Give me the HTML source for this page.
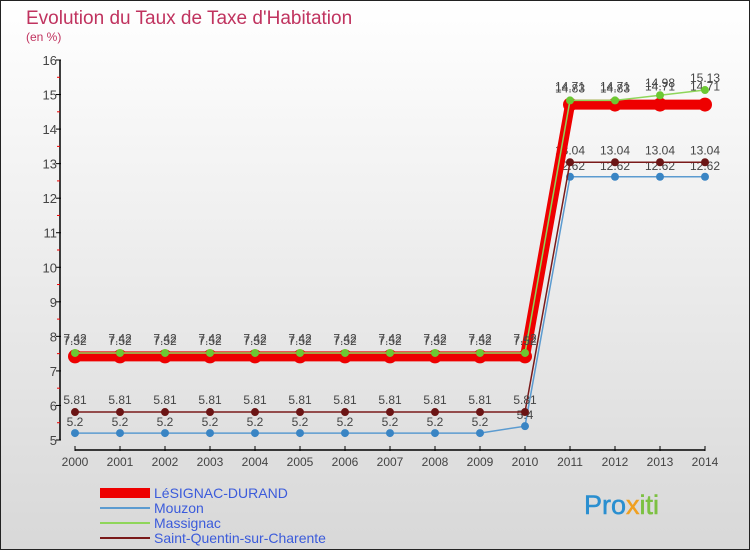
<!DOCTYPE html>
<html><head><meta charset="utf-8"><style>
body{margin:0;width:750px;height:550px;overflow:hidden;font-family:"Liberation Sans",sans-serif}
</style></head><body>
<svg width="750" height="550" xmlns="http://www.w3.org/2000/svg">
<defs><linearGradient id="bg" x1="0" y1="0" x2="0" y2="1"><stop offset="0" stop-color="#ffffff"/><stop offset="1" stop-color="#d8d8d8"/></linearGradient></defs>
<rect x="0.5" y="0.5" width="749" height="549" fill="url(#bg)" stroke="#222"/>
<text x="26" y="24" font-size="19" fill="#c0335f">Evolution du Taux de Taxe d'Habitation</text>
<text x="26" y="41" font-size="12" fill="#c0335f">(en %)</text>
<g id="axes"></g><g id="series"></g><g id="legend"></g>
<text x="584" y="514" font-size="27" fill="#2a8fd0" stroke="#2a8fd0" stroke-width="0.5">Pro<tspan fill="#f0a020" stroke="#f0a020">x</tspan><tspan fill="#7cc142" stroke="#7cc142">iti</tspan></text>
</svg>
<script>
const years=[2000,2001,2002,2003,2004,2005,2006,2007,2008,2009,2010,2011,2012,2013,2014];
const yTicks=[5,6,7,8,9,10,11,12,13,14,15,16];
const lesignac=[7.42,7.42,7.42,7.42,7.42,7.42,7.42,7.42,7.42,7.42,7.42,14.71,14.71,14.71,14.71];
const mouzon=[5.2,5.2,5.2,5.2,5.2,5.2,5.2,5.2,5.2,5.2,5.4,12.62,12.62,12.62,12.62];
const massignac=[7.52,7.52,7.52,7.52,7.52,7.52,7.52,7.52,7.52,7.52,7.52,14.83,14.83,14.98,15.13];
const stquentin=[5.81,5.81,5.81,5.81,5.81,5.81,5.81,5.81,5.81,5.81,5.81,13.04,13.04,13.04,13.04];
const seriesNames=["LéSIGNAC-DURAND","Mouzon","Massignac","Saint-Quentin-sur-Charente"];
const NS="http://www.w3.org/2000/svg";
const X=y=>75+(y-years[0])*45;
const Y=v=>440-(v-5)*(380/11);
function mk(tag,attrs,parent,txt){const e=document.createElementNS(NS,tag);for(const k in attrs)e.setAttribute(k,attrs[k]);if(txt!==undefined)e.textContent=txt;parent.appendChild(e);return e;}
const ax=document.getElementById('axes');
let a=mk('line',{x1:60,y1:Y(16),x2:60,y2:440,stroke:'#000','stroke-width':1.5},ax);


a=mk('line',{x1:75,y1:450,x2:705,y2:450,stroke:'#000','stroke-width':1.5},ax);


yTicks.forEach(t=>{
 mk('line',{x1:56,x2:61,y1:Y(t),y2:Y(t),stroke:'#000'},ax);
 if(t<16)mk('line',{x1:57,x2:60,y1:Y(t+0.5),y2:Y(t+0.5),stroke:'#e00'},ax);
 const l=mk('text',{x:57,y:Y(t)+5,'font-size':13,fill:'#444','text-anchor':'end'},ax,String(t));
 
 
});
years.forEach(yr=>{
 mk('line',{x1:X(yr),x2:X(yr),y1:446,y2:451,stroke:'#000'},ax);
 const l=mk('text',{x:X(yr),y:466,'font-size':12,fill:'#444','text-anchor':'middle'},ax,String(yr));
 
 
});
const sg=document.getElementById('series');
function drawSeries(vals,color,w,r,dot,name,labelDy){
 const g=mk('g',{},sg);
 
 
 mk('polyline',{points:vals.map((v,i)=>X(years[i])+','+Y(v)).join(' '),fill:'none',stroke:color,'stroke-width':w},g);
 vals.forEach((v,i)=>{
  const c=mk('circle',{cx:X(years[i]),cy:Y(v),r:r,fill:dot},g);
  
  
  mk('text',{x:X(years[i]),y:Y(v)+labelDy,'font-size':12,fill:'#444','text-anchor':'middle'},g,String(v));
 });
}
drawSeries(mouzon,'#5b9bd0',1.5,4,'#3a85c4','series-mouzon',-7);
drawSeries(stquentin,'#7a1a1a',1.5,4,'#6b1515','series-saint-quentin',-8);
drawSeries(lesignac,'#ee0000',10,7,'#ee0000','series-lesignac',-14);
drawSeries(massignac,'#8fd65a',1.5,4,'#6cc832','series-massignac',-8);
const lg=document.getElementById('legend');
const lc=[['#ee0000',10],['#5b9bd0',2],['#8fd65a',2],['#7a1a1a',2]];
seriesNames.forEach((n,i)=>{
 const y=493+i*15;
 const g=mk('g',{},lg);
 
 
 mk('line',{x1:100,x2:150,y1:y,y2:y,stroke:lc[i][0],'stroke-width':lc[i][1]},g);
 mk('text',{x:154,y:y+5,'font-size':14,fill:'#3b5bdb'},g,n);
});
</script>
</body></html>
